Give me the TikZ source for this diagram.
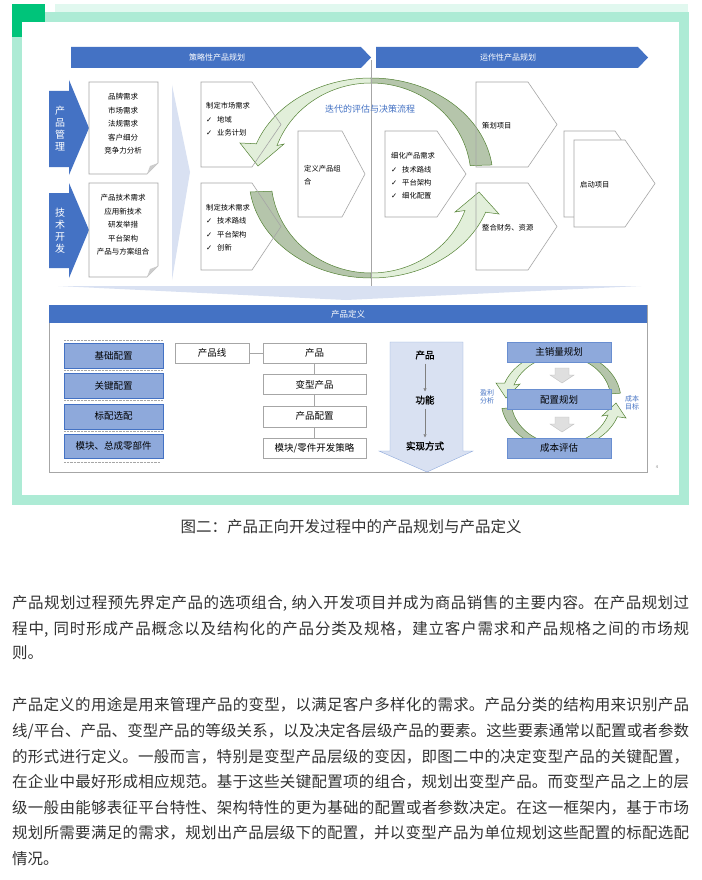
\documentclass[tikz,border=0pt]{standalone}
\usepackage{fontspec}
\setmainfont{Noto Sans CJK SC}[AutoFakeBold=1.5]
\newfontfamily\symfont{DejaVu Sans}
\usepackage{xcolor}
\usetikzlibrary{arrows.meta, positioning}
\XeTeXlinebreaklocale "zh"
\XeTeXlinebreakskip=0pt plus 1pt minus 0.1pt

\definecolor{frameGreen}{HTML}{ADEBD5}
\definecolor{frameDark}{HTML}{00C47A}
\definecolor{framePale}{HTML}{E1F8EF}
\definecolor{hdrBlue}{HTML}{4472C4}
\definecolor{boxBlue}{HTML}{8EA9DB}
\definecolor{paleBlue}{HTML}{D9E1F2}
\definecolor{arrowEdge}{HTML}{8FAADC}
\definecolor{ringDark}{HTML}{B5C5AB}
\definecolor{ringLight}{HTML}{E2EFDA}
\definecolor{ringLine}{HTML}{548235}
\definecolor{lineGray}{HTML}{A6A6A6}
\definecolor{textGray}{HTML}{333333}

\newcommand{\checkitem}{\makebox[11pt][l]{\symfont ✓}}

\begin{document}
\begin{tikzpicture}[x=1pt, y=-1pt,
    every node/.style={inner sep=0pt},
    hdrtext/.style={text=white, font=\fontsize{8}{9}\selectfont},
    sidetext/.style={text=white, align=center, font=\fontsize{10}{12}\selectfont},
    doctext/.style={align=center, font=\fontsize{7.5}{13.5}\selectfont},
    platetext/.style={anchor=west, align=left, font=\fontsize{7.3}{13.5}\selectfont},
    plate/.style={draw=lineGray, line width=0.6pt},
    ringdark/.style={fill=ringDark, draw=ringLine, line width=0.5pt},
    ringlight/.style={fill=ringLight, draw=ringLine, line width=0.5pt},
    cfgbox/.style={draw=hdrBlue, fill=boxBlue, minimum width=99pt, minimum height=25pt, font=\fontsize{9.5}{11}\selectfont},
    levelbox/.style={draw=lineGray, fill=white, minimum width=103pt, minimum height=20pt, font=\fontsize{9.5}{11}\selectfont},
    planbox/.style={draw=hdrBlue!80, fill=boxBlue, minimum width=104pt, minimum height=20pt, font=\fontsize{9.5}{11}\selectfont},
    ringlabel/.style={text=hdrBlue, align=center, font=\fontsize{7}{8}\selectfont},
    flowtext/.style={font=\fontsize{9.5}{11}\selectfont\bfseries},
    bodyline/.style={anchor=west, text width=677pt, align=justify, text=textGray, font=\fontsize{15.5}{20}\selectfont}
  ]
    \useasboundingbox (0,0) rectangle (701,880);
    \fill[white] (0,0) rectangle (701,880);

    % Frame
    \fill[framePale] (55,4) rectangle (688,12);
    \fill[frameGreen] (12,12) rectangle (689,505);
    \fill[frameDark] (12,4) rectangle (45,37);
    \fill[white] (22,22) rectangle (679,495);

    % Background wedges
    \fill[paleBlue] (172,85) -- (190,172) -- (172,280) -- cycle;
    \fill[paleBlue] (58,286) -- (641,286) -- (346,300) -- cycle;

    % Header arrows
    \fill[hdrBlue] (71,47) -- (361,47) -- (371,57.5) -- (361,68) -- (71,68) -- cycle;
    \fill[hdrBlue] (376,47) -- (638,47) -- (648,57.5) -- (638,68) -- (376,68) -- cycle;
    \node[hdrtext] (hdrStrat) at (217,57.5) {策略性产品规划};
    \node[hdrtext] (hdrOper) at (508,57.5) {运作性产品规划};

    % Side chevrons
    \fill[hdrBlue] (49,91) -- (69,91) -- (69,80) -- (89,128) -- (69,175) -- (69,167) -- (49,167) -- cycle;
    \fill[hdrBlue] (49,193) -- (69,193) -- (69,183) -- (89,230) -- (69,278) -- (69,268) -- (49,268) -- cycle;
    \node[sidetext] (sidePM) at (60,129) {产\\品\\管\\理};
    \node[sidetext] (sideTD) at (60,231) {技\\术\\开\\发};

    % Folded documents
    \draw[plate, fill=white] (89,82) -- (158,82) -- (158,163) -- (147,174) -- (89,174) -- cycle;
    \fill[gray!40] (158,163) -- (147,174) -- (150,166) -- cycle;
    \draw[plate, fill=white] (89,183) -- (158,183) -- (158,266) -- (147,277) -- (89,277) -- cycle;
    \fill[gray!40] (158,266) -- (147,277) -- (150,269) -- cycle;
    \node[doctext] (docMarket) at (123,124) {品牌需求\\市场需求\\法规需求\\客户细分\\竞争力分析};
    \node[doctext] (docTech) at (123,225) {产品技术需求\\应用新技术\\研发举措\\平台架构\\产品与方案组合};

    % Iteration ring
    \begin{scope}[shift={(371,178)}]
      \path[ringdark] (-90:122 and 100) arc[start angle=-90, end angle=-7.5, x radius=122, y radius=100]
        -- (-7.5:100 and 95) arc[start angle=-7.5, end angle=-90, x radius=100, y radius=95] -- cycle;
      \path[ringlight] (-90:122 and 100) arc[start angle=-90, end angle=-160, x radius=122, y radius=100]
        -- (-131,-35) -- (-113,-12) -- (-87,-34)
        -- (-160:100 and 95) arc[start angle=-160, end angle=-90, x radius=100, y radius=95] -- cycle;
      \path[ringdark] (-188:122 and 100) arc[start angle=-188, end angle=-270, x radius=122, y radius=100]
        -- (-270:100 and 95) arc[start angle=-270, end angle=-188, x radius=100, y radius=95] -- cycle;
      \path[ringlight] (-270:122 and 100) arc[start angle=-270, end angle=-340, x radius=122, y radius=100]
        -- (128,36) -- (108,14) -- (84,34)
        -- (-340:100 and 95) arc[start angle=-340, end angle=-270, x radius=100, y radius=95] -- cycle;
    \end{scope}
    \draw[lineGray, line width=0.5pt] (371,60) -- (371,286);
    \node[text=hdrBlue, font=\fontsize{9}{10}\selectfont] (iterLabel) at (370,109) {迭代的评估与决策流程};

    % Plates
    \draw[plate] (201,82) -- (252,82) -- (281,124.5) -- (252,167) -- (201,167) -- cycle;
    \draw[plate] (201,183) -- (252,183) -- (281,226.5) -- (252,270) -- (201,270) -- cycle;
    \draw[plate] (298,131) -- (342,131) -- (365,174) -- (342,217) -- (298,217) -- cycle;
    \draw[plate] (385,131) -- (437,131) -- (466,174) -- (437,217) -- (385,217) -- cycle;
    \draw[plate] (476,82) -- (528,82) -- (557,124.5) -- (528,167) -- (476,167) -- cycle;
    \draw[plate] (476,183) -- (528,183) -- (557,226.5) -- (528,270) -- (476,270) -- cycle;
    \draw[plate] (564,131) -- (615,131) -- (645,174) -- (615,217) -- (564,217) -- cycle;
    \draw[plate, fill=white] (574,140) -- (625,140) -- (655,183.5) -- (625,227) -- (574,227) -- cycle;

    \node[platetext] (mktReq) at (206,119.5) {制定市场需求\\\checkitem 地域\\\checkitem 业务计划};
    \node[platetext] (techReq) at (206,227.5) {制定技术需求\\\checkitem 技术路线\\\checkitem 平台架构\\\checkitem 创新};
    \node[platetext, font=\fontsize{7.3}{13}\selectfont] (portfolio) at (304,175.5) {定义产品组\\合};
    \node[platetext, font=\fontsize{7.3}{13.3}\selectfont] (refineReq) at (391,176) {细化产品需求\\\checkitem 技术路线\\\checkitem 平台架构\\\checkitem 细化配置};
    \node[platetext] (planProj) at (482,126) {策划项目};
    \node[platetext] (integRes) at (482,228) {整合财务、资源};
    \node[platetext] (startProj) at (580,185) {启动项目};

    % Product definition panel
    \draw[lineGray, fill=white] (49,305) rectangle (647,472);
    \fill[hdrBlue] (49,305) rectangle (647,323);
    \node[hdrtext, font=\fontsize{8.5}{9}\selectfont] (defHdr) at (348,314) {产品定义};

    % Configuration levels
    \foreach \yy in {340,370,400,431}
      \draw[lineGray, densely dotted] (64,\yy) -- (163,\yy);
    \draw[lineGray, densely dotted] (64,462) -- (160,462);
    \node[cfgbox] (cfgBase) at (113.5,355.5) {基础配置};
    \node[cfgbox, below=5pt of cfgBase] (cfgKey) {关键配置};
    \node[cfgbox, below=5pt of cfgKey] (cfgOpt) {标配选配};
    \node[cfgbox, below=5pt of cfgOpt, minimum height=24pt] (cfgMod) {模块、总成零部件};

    % Product hierarchy
    \node[levelbox, minimum width=74pt] (lvLine) at (212,353) {产品线};
    \node[levelbox] (lvProd) at (314.5,353) {产品};
    \node[levelbox, below=11pt of lvProd] (lvVar) {变型产品};
    \node[levelbox, below=11pt of lvVar, minimum height=21pt] (lvCfg) {产品配置};
    \node[levelbox, below=11pt of lvCfg] (lvMod) {模块/零件开发策略};
    \draw[lineGray] (lvLine) -- (lvProd);
    \draw[lineGray] (lvProd) -- (lvVar);
    \draw[lineGray] (lvVar) -- (lvCfg);
    \draw[lineGray] (lvCfg) -- (lvMod);

    % Product - function - realisation
    \draw[arrowEdge, fill=paleBlue] (390,342) -- (463,342) -- (463,451) -- (473,451) -- (427,472) -- (379,451) -- (390,451) -- cycle;
    \node[flowtext] (fdProd) at (425,355) {产品};
    \node[flowtext] (fdFunc) at (425,400) {功能};
    \node[flowtext] (fdImpl) at (425,446) {实现方式};
    \draw[gray, -{Triangle[length=3pt, width=3pt]}, shorten <=4pt, shorten >=4pt] (fdProd) -- (fdFunc);
    \draw[gray, -{Triangle[length=3pt, width=3pt]}, shorten <=4pt, shorten >=4pt] (fdFunc) -- (fdImpl);

    % Planning cycle
    \begin{scope}[shift={(561,400)}]
      \path[ringdark] (-90:60 and 49) arc[start angle=-90, end angle=-8, x radius=60, y radius=49]
        -- (-8:50 and 44) arc[start angle=-8, end angle=-90, x radius=50, y radius=44] -- cycle;
      \path[ringlight] (-90:60 and 49) arc[start angle=-90, end angle=-160, x radius=60, y radius=49]
        -- (-65,-17) -- (-55,-2) -- (-41,-16)
        -- (-160:50 and 44) arc[start angle=-160, end angle=-90, x radius=50, y radius=44] -- cycle;
      \path[ringdark] (-190:60 and 49) arc[start angle=-190, end angle=-270, x radius=60, y radius=49]
        -- (-270:50 and 44) arc[start angle=-270, end angle=-190, x radius=50, y radius=44] -- cycle;
      \path[ringlight] (-270:60 and 49) arc[start angle=-270, end angle=-340, x radius=60, y radius=49]
        -- (65,18) -- (55,3) -- (41,16)
        -- (-340:50 and 44) arc[start angle=-340, end angle=-270, x radius=50, y radius=44] -- cycle;
    \end{scope}
    \node[planbox] (plVol) at (559,352) {主销量规划};
    \node[planbox, below=27pt of plVol] (plCfg) {配置规划};
    \node[planbox, below=28pt of plCfg] (plCost) {成本评估};
    \draw[gray!50, fill=gray!25] (555,368) -- (569,368) -- (569,375) -- (574,375) -- (562,383) -- (550,375) -- (555,375) -- cycle;
    \draw[gray!50, fill=gray!25] (555,417) -- (569,417) -- (569,424) -- (574,424) -- (562,432) -- (550,424) -- (555,424) -- cycle;
    \node[ringlabel] (profit) at (487,397) {盈利\\分析};
    \node[ringlabel] (costTarget) at (632,403) {成本\\目标};
    \node[text=gray, font=\fontsize{4}{4}\selectfont] (pageMark) at (657,467) {4};

    % Caption
    \node[text=textGray, font=\fontsize{15.5}{17}\selectfont] (caption) at (351,527) {图二：产品正向开发过程中的产品规划与产品定义};

    % Body text
    \node[bodyline] (p1a) at (12,603) {\parfillskip=0pt 产品规划过程预先界定产品的选项组合, 纳入开发项目并成为商品销售的主要内容。在产品规划过\par};
    \node[bodyline] (p1b) at (12,629) {\parfillskip=0pt 程中, 同时形成产品概念以及结构化的产品分类及规格，建立客户需求和产品规格之间的市场规\par};
    \node[bodyline] (p1c) at (12,653) {则。};
    \node[bodyline] (p2a) at (12,705) {\parfillskip=0pt 产品定义的用途是用来管理产品的变型，以满足客户多样化的需求。产品分类的结构用来识别产品\par};
    \node[bodyline] (p2b) at (12,731) {\parfillskip=0pt 线/平台、产品、变型产品的等级关系，以及决定各层级产品的要素。这些要素通常以配置或者参数\par};
    \node[bodyline] (p2c) at (12,757) {\parfillskip=0pt 的形式进行定义。一般而言，特别是变型产品层级的变因，即图二中的决定变型产品的关键配置，\par};
    \node[bodyline] (p2d) at (12,782) {\parfillskip=0pt 在企业中最好形成相应规范。基于这些关键配置项的组合，规划出变型产品。而变型产品之上的层\par};
    \node[bodyline] (p2e) at (12,808) {\parfillskip=0pt 级一般由能够表征平台特性、架构特性的更为基础的配置或者参数决定。在这一框架内，基于市场\par};
    \node[bodyline] (p2f) at (12,833) {\parfillskip=0pt 规划所需要满足的需求，规划出产品层级下的配置，并以变型产品为单位规划这些配置的标配选配\par};
    \node[bodyline] (p2g) at (12,859) {情况。};
  \end{tikzpicture}
\end{document}
